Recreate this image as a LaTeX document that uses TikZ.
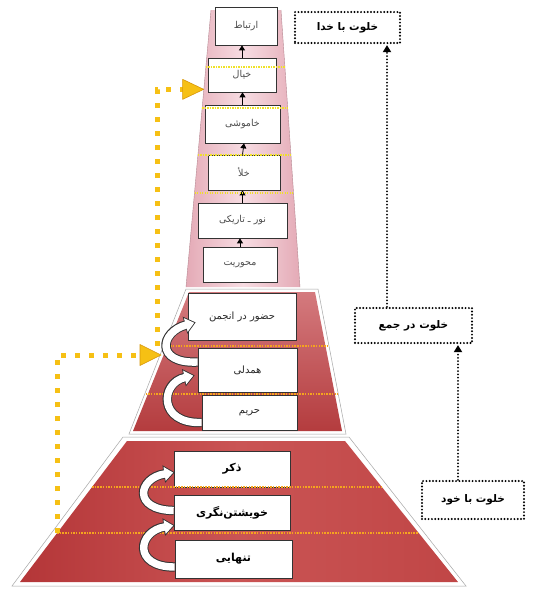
\documentclass[tikz,border=0pt]{standalone}
\usepackage{fontspec}
\newfontfamily\fa[Script=Arabic]{DejaVu Sans}
\TeXXeTstate=1
\usetikzlibrary{arrows.meta,calc}
\definecolor{ygold}{RGB}{246,192,20}
\definecolor{yedge}{RGB}{215,150,10}
\definecolor{dorange}{RGB}{245,165,30}
\definecolor{tyellow}{RGB}{240,225,40}
\definecolor{pinkE}{RGB}{228,170,182}
\definecolor{pinkM}{RGB}{247,220,226}
\definecolor{redL}{RGB}{180,54,56}
\definecolor{redM}{RGB}{202,84,84}
\definecolor{redR}{RGB}{192,70,70}
\definecolor{midT}{RGB}{212,122,126}
\definecolor{midB}{RGB}{180,60,62}
\newcommand\fat[1]{\beginR #1\endR}
\newcommand\wcurve[4]{%
  \draw[line width=9.4pt, black!80, -{Triangle[length=11pt,width=17pt]}] #1 .. controls #2 and #3 .. #4;
  \draw[line width=7.4pt, white, shorten >=1.4pt, -{Triangle[length=8.8pt,width=13.6pt]}] #1 .. controls #2 and #3 .. #4;
}
\begin{document}
\begin{tikzpicture}[x=1pt,y=-1pt,
  box/.style={draw=black!80, line width=0.7pt, fill=white, inner sep=0pt, text=black!70, font=\fa\fontsize{9.5}{11}\selectfont},
  midbox/.style={box, text=black!85, font=\fa\fontsize{10}{12}\selectfont},
  lowbox/.style={box, text=black, font=\fa\bfseries\fontsize{11}{13}\selectfont},
  rbox/.style={draw=black, line width=2.2pt, dash pattern=on 0pt off 3.3pt, line cap=round, fill=white, inner sep=0pt, font=\fa\bfseries\fontsize{10.5}{12}\selectfont},
  dotconn/.style={draw=black, line width=2pt, dash pattern=on 0pt off 3.3pt, line cap=round, shorten >=1pt, -{Triangle[length=7pt,width=8pt]}},
  uparr/.style={draw=black, line width=0.8pt, -{Triangle[length=5pt,width=6pt]}},
  ydots/.style={draw=ygold, line width=5pt, dash pattern=on 5pt off 9pt},
  yhead/.style={fill=ygold, draw=yedge, line width=0.6pt, line join=round},
  thinyellow/.style={draw=tyellow, line width=1.3pt, dash pattern=on 1.3pt off 1.2pt},
  orangedots/.style={draw=dorange, line width=1.3pt, dash pattern=on 1.5pt off 1.2pt},
]
\useasboundingbox (0,0) rectangle (533,590);
\fill[white] (0,0) rectangle (533,590);

% trapezoids
\filldraw[draw=gray!70, line width=0.5pt, fill=white] (123,437) -- (349,437) -- (466,586) -- (12,586) -- cycle;
\shade[left color=redL, right color=redR, middle color=redM] (127,441) -- (345,441) -- (458,582) -- (20,582) -- cycle;

\filldraw[draw=gray!70, line width=0.5pt, fill=white] (186,289) -- (318,289) -- (346,434) -- (129,434) -- cycle;
\shade[top color=midT, bottom color=midB] (189,292) -- (315,292) -- (342,431) -- (133,431) -- cycle;

\shade[left color=pinkE, right color=pinkE, middle color=pinkM] (211,10) -- (281,10) -- (300,287) -- (186,287) -- cycle;
\draw[draw=pinkE!80!black, line width=0.4pt] (211,10) -- (186,287) (281,10) -- (300,287);

% top boxes
\node[box, minimum width=62pt, minimum height=38pt] (ertebat) at (246,26) {\fat{ارتباط}};
\node[box, minimum width=68pt, minimum height=34pt] (khial) at (242,75) {\fat{خیال}};
\node[box, minimum width=75pt, minimum height=38pt] (khamooshi) at (242.5,124) {\fat{خاموشی}};
\node[box, minimum width=72pt, minimum height=35pt] (khala) at (244,172.5) {\fat{خلأ}};
\node[box, minimum width=89pt, minimum height=35pt] (nur) at (242.5,220.5) {\fat{نور ـ تاریکی}};
\node[box, minimum width=74pt, minimum height=35pt] (mahvar) at (240,264.5) {\fat{محوریت}};

% middle boxes
\node[midbox, minimum width=108pt, minimum height=47pt] (hozur) at (242,316.5) {\fat{حضور در انجمن}};
\node[midbox, minimum width=99pt, minimum height=44pt] (hamdeli) at (247.5,370) {\fat{همدلی}};
\node[midbox, minimum width=95pt, minimum height=35pt] (harim) at (249.5,412.5) {\fat{حریم}};

% bottom boxes
\node[lowbox, minimum width=116pt, minimum height=36pt] (zekr) at (232,469) {\fat{ذکر}};
\node[lowbox, minimum width=116pt, minimum height=35pt] (khish) at (232,512.5) {\fat{خویشتن‌نگری}};
\node[lowbox, minimum width=117pt, minimum height=38pt] (tanhai) at (233.5,559) {\fat{تنهایی}};

% right boxes
\node[rbox, minimum width=105pt, minimum height=31pt] (khoda) at (347.5,27.5) {\fat{خلوت با خدا}};
\node[rbox, minimum width=117pt, minimum height=35pt] (jam) at (413.5,325.5) {\fat{خلوت در جمع}};
\node[rbox, minimum width=102pt, minimum height=38pt] (khod) at (473,500) {\fat{خلوت با خود}};

% small up arrows in the tower
\draw[uparr] (mahvar.north) -- (mahvar.north |- nur.south);
\draw[uparr] (nur.north) -- (nur.north |- khala.south);
\draw[uparr] (khala.north -| nur.north) -- (khala.north |- khamooshi.south);
\draw[uparr] (khamooshi.north) -- (khamooshi.north |- khial.south);
\draw[uparr] (khial.north) -- (khial.north |- ertebat.south);

% thin dotted lines
\draw[thinyellow] (205.9,67) -- (284.9,67);
\draw[thinyellow] (202.2,108) -- (287.7,108);
\draw[thinyellow] (197.9,155) -- (290.9,155);
\draw[thinyellow] (194.5,193) -- (293.6,193);
\draw[orangedots] (164.7,346) -- (328,346);
\draw[orangedots] (145.5,394) -- (337.4,394);
\draw[orangedots] (92,487) -- (381,487);
\draw[orangedots] (57,533) -- (418,533);

% curved arrows
\wcurve{($(hamdeli.west)+(0,-8)$)}{(155,364)}{(160,332)}{($(hozur.south west)+(8,-18)$)}
\wcurve{($(harim.west)+(0,10)$)}{(158,424)}{(160,383)}{($(hamdeli.south west)+(-3,-17)$)}
\wcurve{($(khish.west)+(0,-2)$)}{(132,510)}{(138,478)}{($(zekr.south west)+(1,-15)$)}
\wcurve{($(tanhai.west)+(0,8)$)}{(132,567)}{(138,531)}{($(khish.south west)+(1,-5)$)}

% right dotted connectors
\coordinate (xr1) at (458,0);
\coordinate (xr2) at (387,0);
\draw[dotconn] (khod.north -| xr1) -- (jam.south -| xr1);
\draw[dotconn] (jam.north -| xr2) -- (khoda.south -| xr2);

% yellow dotted paths
\coordinate (yA) at (57,533);
\coordinate (yAt) at (161,355);
\draw[ydots] (yA) |- ($(yAt)+(-21,0)$);
\filldraw[yhead] (yAt) -- ++(-21,-10.5) -- ++(0,21) -- cycle;
\coordinate (yB) at (157,346);
\coordinate (yBt) at ($(khial.south west)+(-4,-3)$);
\draw[ydots] (yB) |- ($(yBt)+(-21,0)$);
\filldraw[yhead] (yBt) -- ++(-21,-10) -- ++(0,20) -- cycle;
\end{tikzpicture}
\end{document}
